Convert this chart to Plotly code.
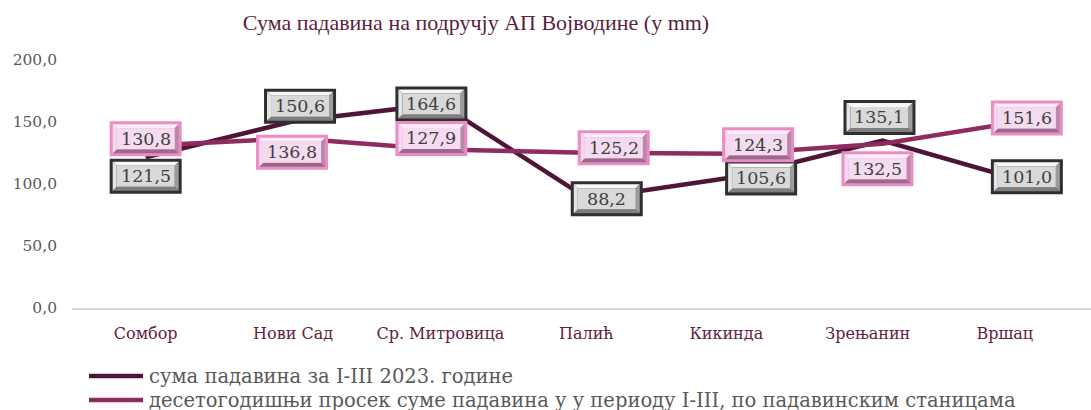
import plotly.graph_objects as go

# ---- data ----
stations = ["Сомбор", "Нови Сад", "Ср. Митровица", "Палић", "Кикинда", "Зрењанин", "Вршац"]
sum_2023 = [121.5, 150.6, 164.6, 88.2, 105.6, 135.1, 101.0]
avg_10y = [130.8, 136.8, 127.9, 125.2, 124.3, 132.5, 151.6]
name_2023 = "сума падавина за I-III 2023. године"
name_avg = "десетогодишњи просек суме падавина у у периоду I-III, по падавинским станицама"
title = "Сума падавина на подручју АП Војводине (у mm)"
y_ticks = [0, 50, 100, 150, 200]

# ---- layout constants ----
W, H = 1091, 410
ML, MR, MT, MB = 72, 0, 60, 102
PW, PH = W - ML - MR, H - MT - MB
tick_pos = [0.0, 1.0, 2.0, 2.99, 3.94, 4.9, 5.83]
shift_2023 = [(0, -19), (7, 15), (-9, 0), (19, 0), (26, -1), (-3, 23), (-3, 6)]
shift_avg = [(0, 7), (-1, -14), (-9, 11), (26, 5), (23, 9), (-5, -25), (-3, 2)]

FONT = "DejaVu Serif"
C_DARK = "#4f1538"
C_PINK = "#8e2c5f"

GRAY_BOX = dict(border="#2f2f2f", top="#f7f7f7", left="#e4e4e4", right="#9c9c9c",
                bottom="#7e7e7e", face="#d9d9d9")
PINK_BOX = dict(border="#ec8cc5", top="#fdebf9", left="#f6d8f0", right="#b88aa9",
                bottom="#9a6a8a", face="#f5dbef")
BOX_W, BOX_H, BORDER, BEVEL = 72, 35, 3, 4

def px_x(p):
    return (p - ML) / PW

def px_y(p):
    return (H - MB - p) / PH

fig = go.Figure()
xs = list(range(len(stations)))
series = [(name_2023, sum_2023, C_DARK), (name_avg, avg_10y, C_PINK)]
for nm, vals, col in series:
    fig.add_trace(go.Scatter(x=xs, y=vals, mode="lines", name=nm,
                             line=dict(color=col, width=4.5), showlegend=False))

def fmt(v):
    return f"{v:.1f}".replace(".", ",")

def poly(pts, dx, dy):
    return "M " + " L ".join(f"{px + dx},{py + dy}" for px, py in pts) + " Z"

def label_box(i, v, dx, dy, pal):
    hw, hh = BOX_W / 2, BOX_H / 2
    a, h = hw - BORDER, hh - BORDER
    c, k = a - BEVEL, h - BEVEL
    parts = [
        (pal["border"], [(-hw, -hh), (hw, -hh), (hw, hh), (-hw, hh)]),
        (pal["top"], [(-a, h), (a, h), (c, k), (-c, k)]),
        (pal["bottom"], [(-a, -h), (a, -h), (c, -k), (-c, -k)]),
        (pal["left"], [(-a, h), (-c, k), (-c, -k), (-a, -h)]),
        (pal["right"], [(a, h), (c, k), (c, -k), (a, -h)]),
        (pal["face"], [(-c, -k), (c, -k), (c, k), (-c, k)]),
    ]
    out = []
    for col, pts in parts:
        out.append(dict(type="path", xref="x", yref="y", xsizemode="pixel", ysizemode="pixel",
                        xanchor=i, yanchor=v, path=poly(pts, dx, dy), fillcolor=col,
                        line=dict(width=0), layer="above"))
    return out

shapes = []
annotations = []
box_styles = [(sum_2023, shift_2023, GRAY_BOX), (avg_10y, shift_avg, PINK_BOX)]
for vals, shifts, pal in box_styles:
    for i, v in enumerate(vals):
        dx, dy = shifts[i]
        shapes.extend(label_box(i, v, dx, dy, pal))
        annotations.append(dict(x=i, y=v, xref="x", yref="y", text=fmt(v), showarrow=False,
                                xshift=dx, yshift=dy,
                                font=dict(family=FONT, size=17.5, color="#404040")))

# custom legend (rows below the plot)
legend_rows = [(376, name_2023, C_DARK), (400, name_avg, C_PINK)]
for py, nm, col in legend_rows:
    shapes.append(dict(type="line", xref="paper", yref="paper",
                       x0=px_x(89), x1=px_x(143), y0=px_y(py), y1=px_y(py),
                       line=dict(color=col, width=4.5)))
    annotations.append(dict(x=px_x(147), y=px_y(py), xref="paper", yref="paper",
                            xanchor="left", yanchor="middle", text=nm, showarrow=False,
                            font=dict(family=FONT, size=19.5, color="#595959")))

fig.update_layout(
    width=W, height=H,
    margin=dict(l=ML, r=MR, t=MT, b=MB),
    paper_bgcolor="white", plot_bgcolor="white",
    separators=", ",
    showlegend=False,
    title=dict(text=title, x=476 / W, xanchor="center", y=1 - 22 / H, yanchor="middle",
               font=dict(family="Liberation Serif", size=22, color="#5a1f3d")),
    xaxis=dict(range=[-0.5, 6.415], tickvals=tick_pos, ticktext=stations, showgrid=False,
               zeroline=False, showline=True, linecolor="#d9d9d9", linewidth=1.5,
               ticks="", ticklabelstandoff=10, automargin=False,
               tickfont=dict(family=FONT, size=16, color="#632042")),
    yaxis=dict(range=[0, 200], tickvals=y_ticks, tickformat=".1f", showgrid=False,
               zeroline=False, showline=False, ticks="", ticklabelstandoff=14, automargin=False,
               tickfont=dict(family=FONT, size=15.5, color="#595959")),
    annotations=annotations,
    shapes=shapes,
)

fig.write_html("out.html", config={"displayModeBar": False},
               post_script="document.body.style.margin='0';")
